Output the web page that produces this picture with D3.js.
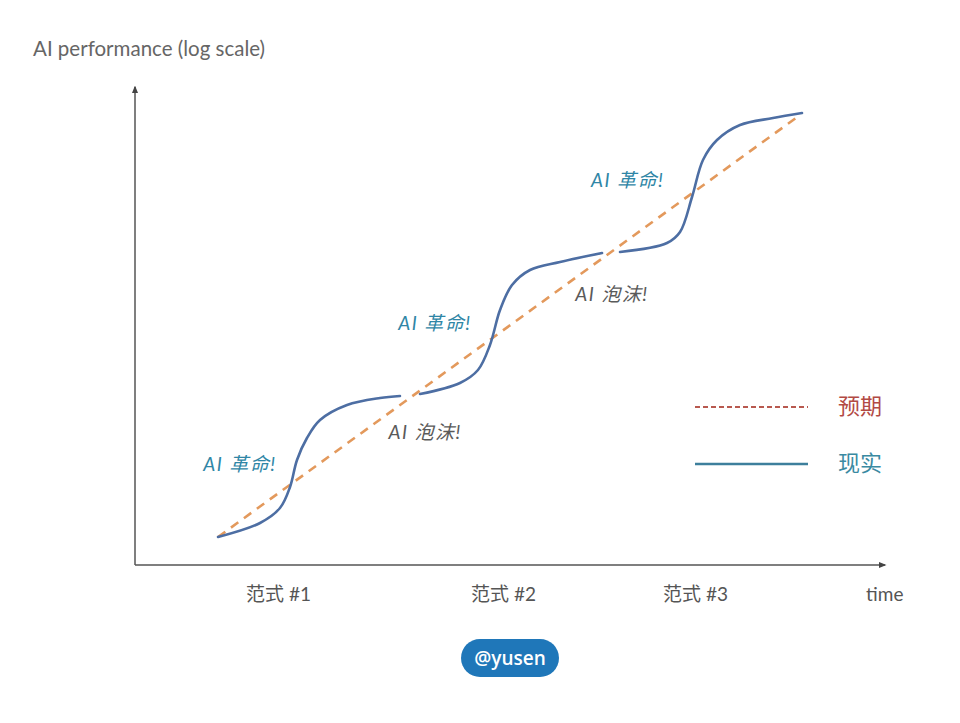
<!DOCTYPE html>
<html><head><meta charset="utf-8">
<script src="https://cdn.jsdelivr.net/npm/d3@7/dist/d3.min.js"></script>
<style>
body{margin:0;background:#fff;}
svg{display:block;}
</style></head>
<body>
<svg id="c" width="960" height="723"></svg>
<script>
// ---- data ----
const expected = [[11.07, 5.86], [88.67, 94.14]];
const realitySeg1 = [[11.07,5.86],[16.67,8.79],[19.33,11.92],[20.67,16.32],[21.6,21.97],[22.93,26.57],[24.67,30.33],[28.27,33.47],[32.67,34.94],[35.33,35.36]];
const realitySeg2 = [[38.0,35.77],[43.33,38.08],[45.73,40.79],[47.33,46.03],[48.67,53.35],[50.27,58.58],[52.67,61.72],[56.67,63.39],[62.27,65.27]];
const realitySeg3 = [[64.67,65.48],[70.93,67.36],[72.67,69.67],[74.27,76.99],[75.73,84.73],[77.6,88.91],[80.67,92.05],[85.07,93.51],[88.93,94.56]];
const tickValues = [19.07, 49.07, 74.67, 99.9];
const tickLabels = ["范式 #1", "范式 #2", "范式 #3", "time"];
const annotationText = ["AI 革命!", "AI 泡沫!", "AI 革命!", "AI 泡沫!", "AI 革命!"];
const annotationKind = ["rev", "bub", "rev", "bub", "rev"];
const annotationPos = [[14.0, 20.7], [38.7, 27.4], [40.0, 50.2], [63.6, 56.3], [65.7, 80.1]];
const legendLabels = ["预期", "现实"];
const yTitle = "AI performance (log scale)";
const badge = "@yusen";

// ---- scales ----
const svg = d3.select("#c");
const x = d3.scaleLinear().domain([0, 100]).range([135, 885]);
const y = d3.scaleLinear().domain([0, 100]).range([565, 87]);

const cjk = "'Lato','Noto Sans CJK SC','Noto Sans',sans-serif";

// arrow markers
const defs = svg.append("defs");
defs.append("marker").attr("id","arr").attr("viewBox","0 0 10 10").attr("refX",8).attr("refY",5)
  .attr("markerWidth",5).attr("markerHeight",5).attr("orient","auto")
  .append("path").attr("d","M0,1 L10,5 L0,9 Z").attr("fill","#444");

// axes lines
svg.append("line").attr("x1",x(0)).attr("y1",y(0)).attr("x2",x(0)).attr("y2",y(100))
  .attr("stroke","#555").attr("stroke-width",1.5).attr("marker-end","url(#arr)");
svg.append("line").attr("x1",x(0)).attr("y1",y(0)).attr("x2",x(100)).attr("y2",y(0))
  .attr("stroke","#555").attr("stroke-width",1.5).attr("marker-end","url(#arr)");

// bottom axis labels
const xAxis = d3.axisBottom(x).tickValues(tickValues).tickSize(0).tickPadding(23)
  .tickFormat((d,i) => tickLabels[i]);
const gx = svg.append("g").attr("transform",`translate(0,${y(0)})`).call(xAxis);
gx.select(".domain").remove();
gx.selectAll("text").attr("font-family",cjk).attr("font-size",19).attr("fill","#555");

// y title
svg.append("text").attr("x",33).attr("y",56).text(yTitle)
  .attr("font-family",cjk).attr("font-size",20.5).attr("fill","#666");

// expected dashed
const line = d3.line().x(d=>x(d[0])).y(d=>y(d[1]));
svg.append("path").attr("d",line(expected)).attr("fill","none")
  .attr("stroke","#e3995c").attr("stroke-width",2.6).attr("stroke-dasharray","9,7");

// reality curves
const curve = d3.line().x(d=>x(d[0])).y(d=>y(d[1])).curve(d3.curveCatmullRom.alpha(0.5));
[realitySeg1, realitySeg2, realitySeg3].forEach(seg => {
  svg.append("path").attr("d",curve(seg)).attr("fill","none")
    .attr("stroke","#4d6ea3").attr("stroke-width",2.6).attr("stroke-linecap","round");
});

// annotations
svg.selectAll("text.ann").data(annotationText).join("text").attr("class","ann")
  .attr("x",(d,i)=>x(annotationPos[i][0])).attr("y",(d,i)=>y(annotationPos[i][1]))
  .attr("text-anchor","middle").attr("dominant-baseline","middle")
  .attr("font-family",cjk).attr("font-size",19).attr("font-style","italic").attr("letter-spacing",1.5)
  .attr("fill",(d,i)=>annotationKind[i]==="rev" ? "#2f86a6" : "#5a5a5a")
  .text(d=>d);

// legend
const lg = svg.append("g");
lg.append("line").attr("x1",695).attr("x2",808).attr("y1",407).attr("y2",407)
  .attr("stroke","#b8594f").attr("stroke-width",2).attr("stroke-dasharray","5,3");
lg.append("text").attr("x",838).attr("y",408).attr("dominant-baseline","middle")
  .attr("font-family",cjk).attr("font-size",22).attr("fill","#b24a44").text(legendLabels[0]);
lg.append("line").attr("x1",695).attr("x2",808).attr("y1",464).attr("y2",464)
  .attr("stroke","#3d7f9c").attr("stroke-width",2.4);
lg.append("text").attr("x",838).attr("y",465).attr("dominant-baseline","middle")
  .attr("font-family",cjk).attr("font-size",22).attr("fill","#3a8aa2").text(legendLabels[1]);

// badge
const bg = svg.append("g").attr("transform","translate(510,658)");
bg.append("rect").attr("x",-49).attr("y",-19).attr("width",98).attr("height",38).attr("rx",19)
  .attr("fill","#1f77b9");
bg.append("text").attr("text-anchor","middle").attr("dominant-baseline","central")
  .attr("font-family","'Open Sans',sans-serif").attr("font-size",19).attr("font-weight",600)
  .attr("fill","#fff").text(badge);
</script>
</body></html>
